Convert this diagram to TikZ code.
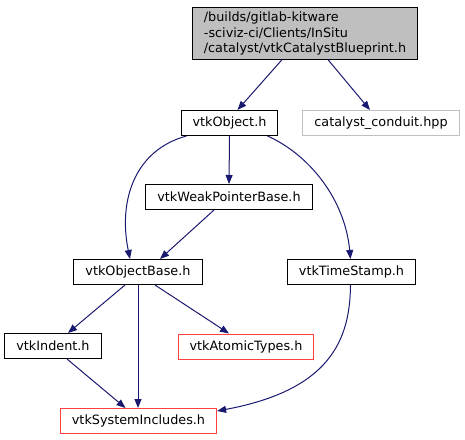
\documentclass[tikz,border=0pt]{standalone}
\usepackage{fontspec}
\setmainfont{DejaVu Sans}
\usepackage{tikz}
\usetikzlibrary{arrows.meta}

\definecolor{edgeblue}{RGB}{25,25,112}
\definecolor{nodered}{RGB}{255,64,64}
\definecolor{nodegray}{RGB}{191,191,191}

\begin{document}
\begin{tikzpicture}[x=1bp, y=-1bp]
    \tikzstyle{header} = [rectangle, draw=black, line width=1bp, inner xsep=11.5bp, inner ysep=0pt, minimum height=25bp, font=\fontsize{12.8bp}{15.5bp}\selectfont]
    \tikzstyle{missing} = [header, draw=nodered]
    \tikzstyle{external} = [header, draw=nodegray]
    \tikzstyle{include} = [draw=edgeblue, line width=1bp, -{Triangle[length=9bp, width=7bp]}]

    \useasboundingbox (0,0) rectangle (465,440);

    % Headers
    \node[header, fill=nodegray, align=left, inner ysep=4bp] (blueprint) at (305,33.5)
        {/builds/gitlab-kitware\\-sciviz-ci/Clients/InSitu\\/catalyst/vtkCatalystBlueprint.h};
    \node[header] (obj) at (229.5,123) {vtkObject.h};
    \node[external] (conduit) at (381,123) {catalyst\_conduit.hpp};
    \node[header] (weak) at (229,197) {vtkWeakPointerBase.h};
    \node[header] (objbase) at (138,272) {vtkObjectBase.h};
    \node[header] (stamp) at (351.5,272) {vtkTimeStamp.h};
    \node[header] (indent) at (53,346) {vtkIndent.h};
    \node[missing] (atomic) at (246,346.5) {vtkAtomicTypes.h};
    \node[missing] (sysinc) at (138.5,421) {vtkSystemIncludes.h};

    % Straight includes
    \draw[include] ([xshift=-23bp]blueprint.south) -- ([xshift=8bp]obj.north);
    \draw[include] ([xshift=23bp]blueprint.south) -- ([xshift=-11bp]conduit.north);
    \draw[include] (obj.south) -- (weak.north);
    \draw[include] ([xshift=-15bp]weak.south) -- ([xshift=22bp]objbase.north);
    \draw[include] ([xshift=-13bp]objbase.south) -- ([xshift=15bp]indent.north);
    \draw[include] (objbase.south) -- (objbase.south |- sysinc.north);
    \draw[include] ([xshift=17bp]objbase.south) -- ([xshift=-17bp]atomic.north);
    \draw[include] ([xshift=14bp]indent.south) -- ([xshift=-13bp]sysinc.north);

    % Curved includes
    \draw[include] ([xshift=-43bp]obj.south) .. controls (135,150) and (118,200) .. ([xshift=-8bp]objbase.north);
    \draw[include] ([xshift=38bp]obj.south) .. controls (310,155) and (345,200) .. ([xshift=-1bp]stamp.north);
    \draw[include] ([xshift=-1bp]stamp.south) .. controls (350,340) and (330,390) .. ([yshift=-3bp]sysinc.north east);
\end{tikzpicture}
\end{document}
